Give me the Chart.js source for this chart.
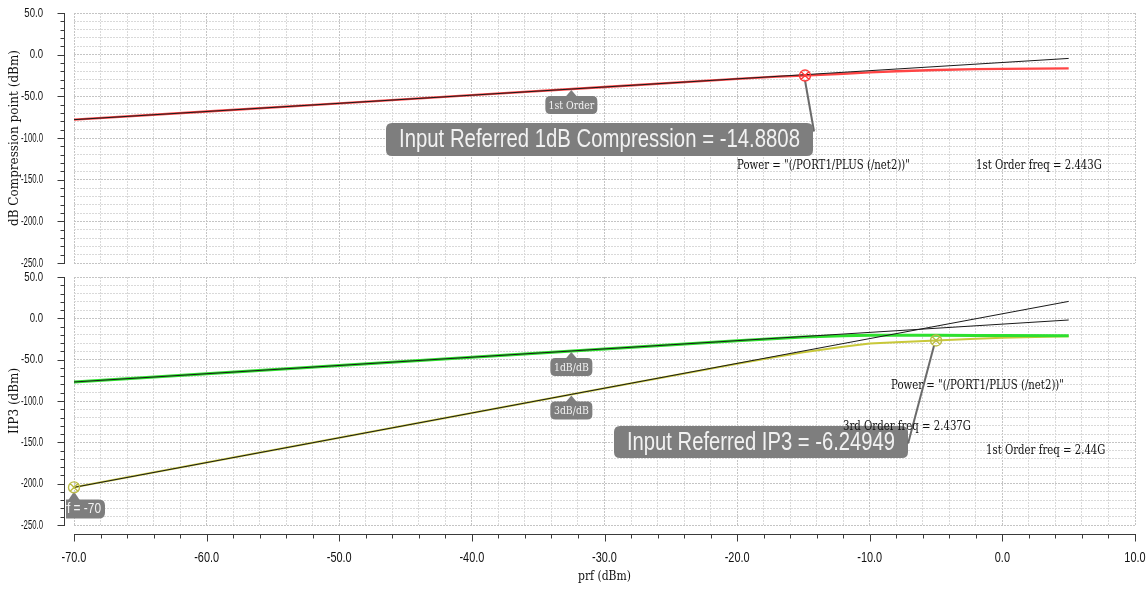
<!DOCTYPE html>
<html>
<head>
<meta charset="utf-8">
<script src="https://cdn.jsdelivr.net/npm/chart.js@4.4.1/dist/chart.umd.min.js"></script>
<style>
  html, body { margin: 0; padding: 0; background: #fff; }
  #wrap { position: relative; width: 1148px; height: 591px; overflow: hidden; background: #fff; }
  #wrap canvas { position: absolute; left: 0; top: 0; }
</style>
</head>
<body>
<div id="wrap">
  <canvas id="cmpChart" width="1148" height="591"></canvas>
  <canvas id="ip3Chart" width="1148" height="591"></canvas>
</div>
<script>
// ---- swept input power, dBm ----
const prf = [-70, -60, -50, -40, -30, -20, -17, -15, -12, -10, -8, -5, -2, 0, 5];
const prfLine = [-70, 5];

// ---- 1 dB compression panel ----
const cmpFirstOrder = [-78.0, -68.2, -58.4, -48.6, -38.8, -29.1, -26.3, -25.1, -22.9, -21.2, -19.9, -18.4, -17.4, -17.0, -16.4];
const cmpLinear = [-78.0, -4.5];
const cmpPoint = -14.8808;

// ---- IP3 panel ----
const ip3FirstOrder = [-77.0, -67.0, -57.0, -47.0, -37.0, -27.1, -24.4, -22.7, -21.0, -20.6, -20.5, -20.6, -20.7, -20.8, -21.0];
const ip3ThirdOrder = [-204.5, -174.5, -144.5, -114.5, -84.6, -55.0, -46.5, -41.0, -34.5, -30.5, -28.8, -26.8, -24.6, -23.4, -21.8];
const ip3Linear1 = [-77.0, -2.0];
const ip3Linear3 = [-204.5, 20.5];
const ip3Value = -6.24949;
const ip3RefPrf = -5;
const startPrf = -70;

// ---- axes ----
const xMin = -70, xMax = 10, xStep = 2, xLabelStep = 10;
const yMin = -250, yMax = 50, yStep = 10, yLabelStep = 50;
const tickText = v => v.toFixed(1);

const SANS = '"Liberation Sans", Arial, sans-serif';
const SERIF_C = '"DejaVu Serif Condensed", "DejaVu Serif", serif';
const SERIF = '"DejaVu Serif", serif';

const xy = (xs, ys) => xs.map((x, i) => ({ x: x, y: ys[i] }));

// linear interpolation along a series (used to place markers on curves)
function valueAt(xs, ys, x) {
  for (let i = 0; i < xs.length - 1; i++) {
    if (x >= xs[i] && x <= xs[i + 1]) {
      const t = (x - xs[i]) / (xs[i + 1] - xs[i]);
      return ys[i] + t * (ys[i + 1] - ys[i]);
    }
  }
  return ys[ys.length - 1];
}

function roundRect(ctx, x, y, w, h, r) {
  ctx.beginPath();
  ctx.moveTo(x + r, y);
  ctx.lineTo(x + w - r, y);
  ctx.quadraticCurveTo(x + w, y, x + w, y + r);
  ctx.lineTo(x + w, y + h - r);
  ctx.quadraticCurveTo(x + w, y + h, x + w - r, y + h);
  ctx.lineTo(x + r, y + h);
  ctx.quadraticCurveTo(x, y + h, x, y + h - r);
  ctx.lineTo(x, y + r);
  ctx.quadraticCurveTo(x, y, x + r, y);
  ctx.closePath();
}

// condensed text: draws with a horizontal squeeze, optionally capped to a width
function narrowText(ctx, text, x, y, font, sx, align, maxW) {
  ctx.save();
  ctx.font = font;
  ctx.textAlign = align;
  ctx.textBaseline = 'middle';
  let s = sx;
  if (maxW) s = Math.min(sx, maxW / ctx.measureText(text).width);
  ctx.translate(x, y);
  ctx.scale(s, 1);
  ctx.fillText(text, 0, 0);
  ctx.restore();
}

const BOX = '#7e7e7e';
const BOX_TEXT = '#f2f2f2';

// small tag below a point on a line: pointer + rounded box + text
function tag(ctx, px, py, text, w) {
  const top = py + 7, h = 18;
  ctx.fillStyle = BOX;
  ctx.beginPath();
  ctx.moveTo(px - 6, top + 1);
  ctx.lineTo(px, py + 1);
  ctx.lineTo(px + 6, top + 1);
  ctx.closePath();
  ctx.fill();
  roundRect(ctx, px - w / 2, top, w, h, 5);
  ctx.fill();
  ctx.fillStyle = BOX_TEXT;
  narrowText(ctx, text, px, top + h / 2 + 1, '11px ' + SERIF, 0.85, 'center');
}

function bigLabel(ctx, x, y, w, h, text) {
  ctx.fillStyle = BOX;
  roundRect(ctx, x, y, w, h, 6);
  ctx.fill();
  ctx.fillStyle = BOX_TEXT;
  narrowText(ctx, text, x + w / 2, y + h / 2 + 1, '25px ' + SANS, 1, 'center', w - 26);
}

function marker(ctx, px, py, color) {
  const r = 5.5;
  ctx.strokeStyle = color;
  ctx.lineWidth = 1.4;
  ctx.beginPath();
  ctx.arc(px, py, r, 0, Math.PI * 2);
  const d = r * 0.7;
  ctx.moveTo(px - d, py - d); ctx.lineTo(px + d, py + d);
  ctx.moveTo(px + d, py - d); ctx.lineTo(px - d, py + d);
  ctx.stroke();
}

function info(ctx, x, y, text) {
  ctx.fillStyle = '#111';
  narrowText(ctx, text, x, y, '12px ' + SERIF, 0.845, 'left');
}

// axis lines, tick marks and tick labels drawn just outside the plot area
const axisDecor = {
  id: 'axisDecor',
  afterDraw(chart, args, opts) {
    const { ctx } = chart;
    const ys = chart.scales.y, xs = chart.scales.x;
    ctx.save();
    ctx.strokeStyle = '#3a3a3a';
    ctx.lineWidth = 1;
    ctx.beginPath();
    const ax = 64.5;
    ctx.moveTo(ax, Math.round(ys.getPixelForValue(ys.max)));
    ctx.lineTo(ax, Math.round(ys.getPixelForValue(ys.min)) + 1);
    ys.ticks.forEach(t => {
      const py = Math.round(ys.getPixelForValue(t.value)) + 0.5;
      const len = (Math.round(t.value) % yLabelStep === 0) ? 7 : 4;
      ctx.moveTo(ax - len, py);
      ctx.lineTo(ax, py);
    });
    if (opts.xAxis) {
      const ay = 534.5;
      ctx.moveTo(Math.round(xs.getPixelForValue(xs.min)), ay);
      ctx.lineTo(Math.round(xs.getPixelForValue(xs.max)) + 1, ay);
      xs.ticks.forEach(t => {
        const px = Math.round(xs.getPixelForValue(t.value)) + 0.5;
        const len = (Math.round(t.value) % xLabelStep === 0) ? 7 : 4;
        ctx.moveTo(px, ay);
        ctx.lineTo(px, ay + len);
      });
    }
    ctx.stroke();

    ctx.fillStyle = '#111';
    ys.ticks.forEach(t => {
      if (Math.round(t.value) % yLabelStep !== 0) return;
      narrowText(ctx, tickText(t.value), 43, ys.getPixelForValue(t.value) + 0.5, '12px ' + SANS, 0.8, 'right', 22);
    });
    if (opts.xAxis) {
      xs.ticks.forEach(t => {
        if (Math.round(t.value) % xLabelStep !== 0) return;
        narrowText(ctx, tickText(t.value), xs.getPixelForValue(t.value), 558, '14px ' + SANS, 0.78, 'center');
      });
    }
    ctx.restore();
  }
};

// marker, tag and readout annotations of each panel
const panelNotes = {
  id: 'panelNotes',
  afterDatasetsDraw(chart, args, opts) {
    const { ctx } = chart;
    const xs = chart.scales.x, ys = chart.scales.y;
    const P = (x, y) => [xs.getPixelForValue(x), ys.getPixelForValue(y)];
    ctx.save();
    if (opts.kind === 'cmp') {
      const [tx, ty] = P(-32.5, valueAt(prfLine, cmpLinear, -32.5));
      tag(ctx, tx, ty, '1st Order', 52);
      const [mx, my] = P(cmpPoint, valueAt(prf, cmpFirstOrder, cmpPoint));
      ctx.strokeStyle = '#6a6a6a';
      ctx.lineWidth = 2;
      ctx.beginPath(); ctx.moveTo(mx, my + 5); ctx.lineTo(mx + 9, my + 56); ctx.stroke();
      bigLabel(ctx, 386, 123, 427, 33, 'Input Referred 1dB Compression = ' + cmpPoint.toFixed(4));
      marker(ctx, mx, my, '#ff3a3a');
      info(ctx, 737, 166, 'Power = "(/PORT1/PLUS (/net2))"');
      info(ctx, 976, 166, '1st Order freq = 2.443G');
    } else {
      const [ax, ay] = P(-32.5, valueAt(prfLine, ip3Linear1, -32.5));
      tag(ctx, ax, ay, '1dB/dB', 42);
      const [bx, by] = P(-32.5, valueAt(prfLine, ip3Linear3, -32.5));
      tag(ctx, bx, by, '3dB/dB', 42);

      info(ctx, 891, 386, 'Power = "(/PORT1/PLUS (/net2))"');
      const [mx, my] = P(ip3RefPrf, valueAt(prf, ip3ThirdOrder, ip3RefPrf));
      bigLabel(ctx, 614, 426, 294, 32, 'Input Referred IP3 = ' + ip3Value.toFixed(5));
      ctx.strokeStyle = '#6a6a6a';
      ctx.lineWidth = 2;
      ctx.beginPath(); ctx.moveTo(mx - 2, my + 5); ctx.lineTo(mx - 28, my + 103); ctx.stroke();
      info(ctx, 843, 427, '3rd Order freq = 2.437G');
      info(ctx, 986, 451, '1st Order freq = 2.44G');
      marker(ctx, mx, my, '#bdbd48');

      // start-point readout, clipped at the axis
      const [sx, sy] = P(startPrf, valueAt(prf, ip3ThirdOrder, startPrf));
      ctx.save();
      ctx.beginPath(); ctx.rect(66, 0, 1148, 591); ctx.clip();
      ctx.fillStyle = BOX;
      ctx.beginPath();
      ctx.moveTo(sx - 6, sy + 13); ctx.lineTo(sx, sy + 4); ctx.lineTo(sx + 6, sy + 13); ctx.closePath(); ctx.fill();
      roundRect(ctx, sx - 34, sy + 12, 65, 19, 6);
      ctx.fill();
      ctx.fillStyle = BOX_TEXT;
      narrowText(ctx, 'prf = ' + startPrf, sx + 27, sy + 22, '14px ' + SANS, 0.85, 'right');
      ctx.restore();
      marker(ctx, sx, sy, '#bdbd48');
    }
    ctx.restore();
  }
};

function gridColor(step) {
  return c => (c.tick && Math.abs(Math.round(c.tick.value) % step) === 0) ? '#c4c4c4' : '#d9d9d9';
}

function panelOptions(kind, titleText, top, bottomPad, showX) {
  return {
    responsive: false,
    animation: false,
    devicePixelRatio: 1,
    events: [],
    layout: { padding: { top: top, right: 13, bottom: bottomPad, left: 0 } },
    plugins: {
      legend: { display: false },
      tooltip: { enabled: false },
      axisDecor: { xAxis: showX },
      panelNotes: { kind: kind }
    },
    elements: { point: { radius: 0 }, line: { tension: 0 } },
    scales: {
      x: {
        type: 'linear',
        min: xMin, max: xMax,
        border: { display: false, dash: [2, 1] },
        grid: { color: gridColor(xLabelStep), lineWidth: 1, drawTicks: false },
        ticks: { display: false, stepSize: xStep, autoSkip: false, callback: () => '' },
        title: {
          display: showX,
          text: 'prf (dBm)',
          color: '#111',
          font: { family: SERIF_C, size: 12 },
          padding: { top: 0, bottom: 7 }
        },
        afterFit: s => { s.height = showX ? 66 : 0; s.paddingLeft = 0; s.paddingRight = 0; }
      },
      y: {
        type: 'linear',
        min: yMin, max: yMax,
        border: { display: false, dash: [2, 1] },
        grid: { color: gridColor(yLabelStep), lineWidth: 1, drawTicks: false },
        ticks: { display: false, stepSize: yStep, autoSkip: false, callback: () => '' },
        title: {
          display: true,
          text: titleText,
          color: '#111',
          font: { family: SERIF, size: 12 },
          padding: { top: 8, bottom: 0 }
        },
        afterFit: s => { s.width = 74; s.paddingTop = 0; s.paddingBottom = 0; }
      }
    }
  };
}

Chart.register(axisDecor, panelNotes);

new Chart(document.getElementById('cmpChart'), {
  type: 'line',
  data: {
    datasets: [
      { label: 'linear', data: xy(prfLine, cmpLinear), borderColor: '#1a1a1a', borderWidth: 1, fill: false },
      { label: '1st Order', data: xy(prf, cmpFirstOrder), borderColor: '#ff4545', borderWidth: 2.4, fill: false }
    ]
  },
  options: panelOptions('cmp', 'dB Compression point (dBm)', 13, 591 - 263, false)
});

new Chart(document.getElementById('ip3Chart'), {
  type: 'line',
  data: {
    datasets: [
      { label: '1dB/dB', data: xy(prfLine, ip3Linear1), borderColor: '#1a1a1a', borderWidth: 1, fill: false },
      { label: '3dB/dB', data: xy(prfLine, ip3Linear3), borderColor: '#1a1a1a', borderWidth: 1, fill: false },
      { label: '1st Order', data: xy(prf, ip3FirstOrder), borderColor: '#2ee02e', borderWidth: 3, fill: false },
      { label: '3rd Order', data: xy(prf, ip3ThirdOrder), borderColor: '#c8c83a', borderWidth: 2, fill: false }
    ]
  },
  options: panelOptions('ip3', 'IIP3 (dBm)', 277, 0, true)
});
</script>
</body>
</html>
